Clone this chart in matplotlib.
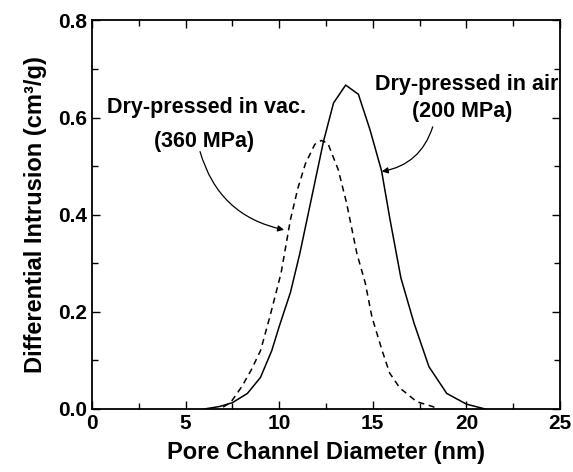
import matplotlib
matplotlib.use("Agg")
import matplotlib.pyplot as plt

plt.rcParams['font.family'] = ['Liberation Sans', 'DejaVu Sans']
plt.rcParams['font.weight'] = 'bold'

# pore size distributions (nm, cm^3/g)
air_d = [6.0, 6.8, 7.5, 8.3, 9.0, 9.6, 10.0, 10.6, 11.1, 12.36, 12.9, 13.55,
         14.23, 14.85, 15.47, 15.92, 16.5, 17.2, 18.0, 18.95, 20.0, 21.0]
air_v = [0.0, 0.005, 0.013, 0.032, 0.065, 0.12, 0.17, 0.24, 0.32, 0.55, 0.63, 0.667,
         0.648, 0.575, 0.49, 0.39, 0.27, 0.177, 0.087, 0.032, 0.01, 0.0]

vac_d = [7.0, 7.4, 8.0, 8.5, 9.0, 9.5, 10.1, 10.6, 11.0, 11.4, 11.9, 12.25,
         12.6, 13.15, 13.6, 14.15, 14.6, 14.95, 15.5, 15.9, 16.45, 17.35, 18.2, 18.5]
vac_v = [0.004, 0.013, 0.046, 0.08, 0.12, 0.19, 0.28, 0.39, 0.455, 0.505, 0.545, 0.553,
         0.547, 0.493, 0.424, 0.32, 0.259, 0.19, 0.12, 0.074, 0.043, 0.015, 0.005, 0.0]

x_ticks = [0, 5, 10, 15, 20, 25]
y_ticks = [0.0, 0.2, 0.4, 0.6, 0.8]

fig = plt.figure(figsize=(5.73, 4.72), dpi=100)
ax = fig.add_axes([0.1606, 0.1335, 0.8167, 0.8231])

ax.plot(air_d, air_v, color='black', lw=1.1)
ax.plot(vac_d, vac_v, color='black', lw=1.1, linestyle=(0, (4, 3)))

ax.set_xlim(0, 25)
ax.set_ylim(0, 0.8)
ax.set_xticks(x_ticks)
ax.set_xticks([2.5, 7.5, 12.5, 17.5, 22.5], minor=True)
ax.set_yticks(y_ticks)
ax.set_yticks([0.1, 0.3, 0.5, 0.7], minor=True)
ax.set_xticklabels([str(t) for t in x_ticks])
ax.set_yticklabels([f'{t:.1f}' for t in y_ticks])
ax.tick_params(which='both', direction='in', top=True, right=True,
               labelsize=15, width=1.0)
ax.tick_params(which='major', length=6)
ax.tick_params(which='minor', length=4)
for s in ax.spines.values():
    s.set_linewidth(1.3)

ax.set_xlabel('Pore Channel Diameter (nm)', fontsize=17, fontweight='bold', labelpad=6)
ax.set_ylabel('Differential Intrusion (cm\u00b3/g)', fontsize=17,
              fontweight='bold', labelpad=8)

ax.text(6.12, 0.62, 'Dry-pressed in vac.', fontsize=15.5, ha='center', va='center')
ax.text(5.98, 0.55, '(360 MPa)', fontsize=15.5, ha='center', va='center')
ax.text(20.0, 0.668, 'Dry-pressed in air', fontsize=15.5, ha='center', va='center')
ax.text(19.8, 0.612, '(200 MPa)', fontsize=15.5, ha='center', va='center')

ax.annotate('', xy=(10.26, 0.369), xytext=(5.77, 0.53),
            arrowprops=dict(arrowstyle='-|>', color='black', lw=0.9,
                            mutation_scale=9, shrinkA=0, shrinkB=0,
                            connectionstyle='arc3,rad=0.3'))
ax.annotate('', xy=(15.48, 0.489), xytext=(18.2, 0.581),
            arrowprops=dict(arrowstyle='-|>', color='black', lw=0.9,
                            mutation_scale=9, shrinkA=0, shrinkB=0,
                            connectionstyle='arc3,rad=-0.3'))

fig.savefig('out.png', dpi=100)
